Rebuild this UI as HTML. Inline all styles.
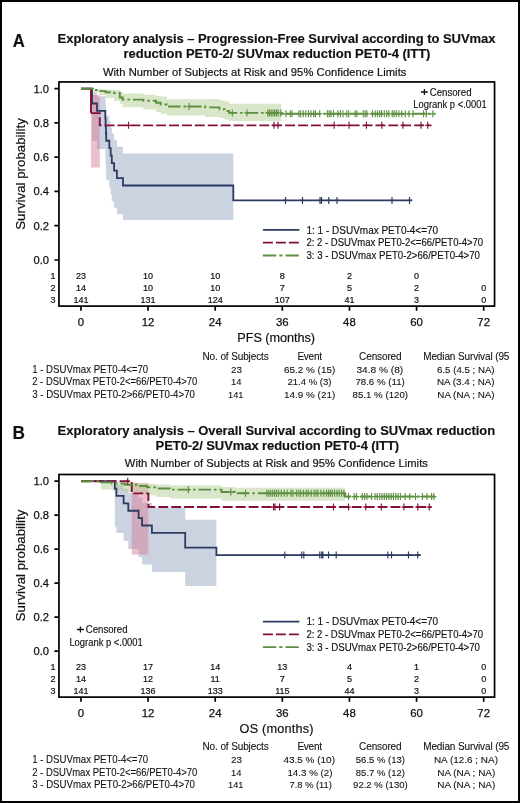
<!DOCTYPE html>
<html><head><meta charset="utf-8"><style>
html,body{margin:0;padding:0;background:#fff;}
.wrap{position:relative;width:520px;height:803px;box-sizing:border-box;border:2px solid #000;background:#fff;overflow:hidden;}
svg{position:absolute;left:-2px;top:-2px;will-change:transform;}
text{font-family:"Liberation Sans", sans-serif;fill:#111;}
</style></head><body><div class="wrap">
<svg width="520" height="803" viewBox="0 0 520 803">
<text x="12.70" y="47.00" font-size="17.6" font-weight="bold" stroke="#111" stroke-width="0.15" textLength="12.10" lengthAdjust="spacingAndGlyphs">A</text>
<text x="57.60" y="43.00" font-size="13" font-weight="bold" stroke="#111" stroke-width="0.15" textLength="437.80" lengthAdjust="spacing">Exploratory analysis – Progression-Free Survival according to SUVmax</text>
<text x="123.60" y="58.40" font-size="13" font-weight="bold" stroke="#111" stroke-width="0.15" textLength="306.80" lengthAdjust="spacing">reduction PET0-2/ SUVmax reduction PET0-4 (ITT)</text>
<text x="102.90" y="75.80" font-size="11.2" stroke="#111" stroke-width="0.2" textLength="303.50" lengthAdjust="spacing">With Number of Subjects at Risk and 95% Confidence Limits</text>
<path d="M92.00,92.45L97.00,92.45L97.00,96.15L105.30,96.15L105.30,100.44L105.60,100.44L105.60,105.19L105.90,105.19L105.90,110.30L106.20,110.30L106.20,115.73L109.30,115.73L109.30,121.43L110.70,121.43L110.70,127.39L111.80,127.39L111.80,133.58L114.10,133.58L114.10,140.00L116.90,140.00L116.90,146.65L123.00,146.65L123.00,153.52L233.30,153.52L233.30,220.09L123.00,220.09L123.00,214.02L116.90,214.02L116.90,207.71L114.10,207.71L114.10,201.17L111.80,201.17L111.80,194.41L110.70,194.41L110.70,187.42L109.30,187.42L109.30,180.19L106.20,180.19L106.20,172.72L105.90,172.72L105.90,165.01L105.60,165.01L105.60,157.06L105.30,157.06L105.30,148.92L97.00,148.92L97.00,140.89L92.00,140.89Z" fill="#97a5c1" fill-opacity="0.5"/>
<path d="M91.00,95.07L99.80,95.07L99.80,167.54L91.00,167.54Z" fill="#d78199" fill-opacity="0.5"/>
<path d="M93.00,89.00L99.00,89.00L99.00,89.30L105.50,89.30L105.50,89.60L114.00,89.60L114.00,90.00L119.80,90.00L119.80,91.50L122.70,91.50L122.70,93.50L143.40,93.50L143.40,94.70L156.10,94.70L156.10,96.00L160.70,96.00L160.70,96.40L167.00,96.40L167.00,99.20L205.00,99.20L205.00,99.00L219.50,99.00L219.50,100.20L224.50,100.20L224.50,101.50L229.00,101.50L229.00,103.70L281.30,103.70L281.30,121.00L229.00,121.00L229.00,119.50L224.50,119.50L224.50,118.00L219.50,118.00L219.50,117.00L205.00,117.00L205.00,115.50L167.00,115.50L167.00,113.70L160.70,113.70L160.70,112.00L156.10,112.00L156.10,109.60L143.40,109.60L143.40,107.30L122.70,107.30L122.70,104.00L119.80,104.00L119.80,101.00L114.00,101.00L114.00,98.00L105.50,98.00L105.50,95.00L99.00,95.00L99.00,92.50L93.00,92.50Z" fill="#b5cd93" fill-opacity="0.5"/>
<path d="M80.96,88.60H92.00V103.50H97.00V110.96H105.30V118.41H105.60V125.86H105.90V133.31H106.20V140.77H109.30V148.22H110.70V155.67H111.80V163.12H114.10V170.57H116.90V178.03H123.00V185.48H233.30V200.38H412.20" fill="none" stroke="#2d3a62" stroke-width="1.8"/>
<path d="M80.96,88.60H91.00V113.09" fill="none" stroke="#84103a" stroke-width="1.9"/>
<path d="M91.00,113.09H99.80V125.33H431.50" fill="none" stroke="#84103a" stroke-width="1.9" stroke-dasharray="9.9 3"/>
<path d="M80.96,88.60H93.00V89.95H99.00V91.10H105.50V92.30H114.00V93.00H119.80V97.50H122.70V99.60H143.40V100.80H156.10V102.70H160.70V104.50H167.00V106.50H205.00V107.40H219.50V109.20H224.50V111.00H229.00V112.90H281.30V113.80H435.50" fill="none" stroke="#5c9040" stroke-width="1.9" stroke-dasharray="12.5 3 2.5 3"/>
<path d="M285.50,196.88V203.88M283.00,200.38H288.00M302.50,196.88V203.88M300.00,200.38H305.00M320.00,196.88V203.88M317.50,200.38H322.50M321.50,196.88V203.88M319.00,200.38H324.00M328.75,196.88V203.88M326.25,200.38H331.25M337.00,196.88V203.88M334.50,200.38H339.50M392.00,196.88V203.88M389.50,200.38H394.50M409.50,196.88V203.88M407.00,200.38H412.00" fill="none" stroke="#2d3a62" stroke-width="1.15"/>
<path d="M128.50,121.83V128.83M126.00,125.33H131.00M274.00,121.83V128.83M271.50,125.33H276.50M278.00,121.83V128.83M275.50,125.33H280.50M334.20,121.83V128.83M331.70,125.33H336.70M349.00,121.83V128.83M346.50,125.33H351.50M366.40,121.83V128.83M363.90,125.33H368.90M381.80,121.83V128.83M379.30,125.33H384.30M403.00,121.83V128.83M400.50,125.33H405.50M421.00,121.83V128.83M418.50,125.33H423.50M427.70,121.83V128.83M425.20,125.33H430.20" fill="none" stroke="#84103a" stroke-width="1.15"/>
<path d="M189.00,103.00V110.00M186.50,106.50H191.50M232.30,109.40V116.40M229.80,112.90H234.80M246.90,109.40V116.40M244.40,112.90H249.40M267.80,109.40V116.40M265.30,112.90H270.30M269.50,109.40V116.40M267.00,112.90H272.00M271.20,109.40V116.40M268.70,112.90H273.70M273.00,109.40V116.40M270.50,112.90H275.50M274.70,109.40V116.40M272.20,112.90H277.20M276.40,109.40V116.40M273.90,112.90H278.90M278.20,109.40V116.40M275.70,112.90H280.70M280.80,109.40V116.40M278.30,112.90H283.30M286.00,110.30V117.30M283.50,113.80H288.50M290.30,110.30V117.30M287.80,113.80H292.80M292.00,110.30V117.30M289.50,113.80H294.50M298.90,110.30V117.30M296.40,113.80H301.40M300.70,110.30V117.30M298.20,113.80H303.20M303.30,110.30V117.30M300.80,113.80H305.80M305.80,110.30V117.30M303.30,113.80H308.30M308.40,110.30V117.30M305.90,113.80H310.90M311.00,110.30V117.30M308.50,113.80H313.50M313.60,110.30V117.30M311.10,113.80H316.10M315.40,110.30V117.30M312.90,113.80H317.90M319.70,110.30V117.30M317.20,113.80H322.20M327.50,110.30V117.30M325.00,113.80H330.00M329.20,110.30V117.30M326.70,113.80H331.70M330.90,110.30V117.30M328.40,113.80H333.40M333.50,110.30V117.30M331.00,113.80H336.00M337.90,110.30V117.30M335.40,113.80H340.40M340.40,110.30V117.30M337.90,113.80H342.90M343.00,110.30V117.30M340.50,113.80H345.50M346.80,110.30V117.30M344.30,113.80H349.30M348.70,110.30V117.30M346.20,113.80H351.20M355.10,110.30V117.30M352.60,113.80H357.60M356.90,110.30V117.30M354.40,113.80H359.40M363.30,110.30V117.30M360.80,113.80H365.80M365.10,110.30V117.30M362.60,113.80H367.60M366.90,110.30V117.30M364.40,113.80H369.40M372.40,110.30V117.30M369.90,113.80H374.90M375.20,110.30V117.30M372.70,113.80H377.70M377.50,110.30V117.30M375.00,113.80H380.00M379.70,110.30V117.30M377.20,113.80H382.20M381.60,110.30V117.30M379.10,113.80H384.10M384.30,110.30V117.30M381.80,113.80H386.80M386.70,110.30V117.30M384.20,113.80H389.20M388.90,110.30V117.30M386.40,113.80H391.40M392.20,110.30V117.30M389.70,113.80H394.70M394.00,110.30V117.30M391.50,113.80H396.50M396.20,110.30V117.30M393.70,113.80H398.70M398.90,110.30V117.30M396.40,113.80H401.40M401.70,110.30V117.30M399.20,113.80H404.20M405.30,110.30V117.30M402.80,113.80H407.80M409.00,110.30V117.30M406.50,113.80H411.50M413.00,110.30V117.30M410.50,113.80H415.50M423.60,110.30V117.30M421.10,113.80H426.10M426.40,110.30V117.30M423.90,113.80H428.90M432.80,110.30V117.30M430.30,113.80H435.30" fill="none" stroke="#5c9040" stroke-width="1.15"/>
<rect x="58.95" y="81.95" width="435.6" height="224.15" fill="none" stroke="#000" stroke-width="1.7"/>
<text x="49.00" y="264.00" font-size="11.2" text-anchor="end" stroke="#111" stroke-width="0.25">0.0</text>
<text x="49.00" y="229.72" font-size="11.2" text-anchor="end" stroke="#111" stroke-width="0.25">0.2</text>
<text x="49.00" y="195.44" font-size="11.2" text-anchor="end" stroke="#111" stroke-width="0.25">0.4</text>
<text x="49.00" y="161.16" font-size="11.2" text-anchor="end" stroke="#111" stroke-width="0.25">0.6</text>
<text x="49.00" y="126.88" font-size="11.2" text-anchor="end" stroke="#111" stroke-width="0.25">0.8</text>
<text x="49.00" y="92.60" font-size="11.2" text-anchor="end" stroke="#111" stroke-width="0.25">1.0</text>
<text x="80.96" y="325.90" font-size="11.4" text-anchor="middle" stroke="#111" stroke-width="0.25">0</text>
<text x="148.08" y="325.90" font-size="11.4" text-anchor="middle" stroke="#111" stroke-width="0.25">12</text>
<text x="215.21" y="325.90" font-size="11.4" text-anchor="middle" stroke="#111" stroke-width="0.25">24</text>
<text x="282.33" y="325.90" font-size="11.4" text-anchor="middle" stroke="#111" stroke-width="0.25">36</text>
<text x="349.45" y="325.90" font-size="11.4" text-anchor="middle" stroke="#111" stroke-width="0.25">48</text>
<text x="416.58" y="325.90" font-size="11.4" text-anchor="middle" stroke="#111" stroke-width="0.25">60</text>
<text x="483.70" y="325.90" font-size="11.4" text-anchor="middle" stroke="#111" stroke-width="0.25">72</text>
<path d="M54.4,260.00H58.95M54.4,225.72H58.95M54.4,191.44H58.95M54.4,157.16H58.95M54.4,122.88H58.95M54.4,88.60H58.95M80.96,306.10V310.70M148.08,306.10V310.70M215.21,306.10V310.70M282.33,306.10V310.70M349.45,306.10V310.70M416.58,306.10V310.70M483.70,306.10V310.70" stroke="#000" stroke-width="1.7" fill="none"/>
<text x="237.30" y="342.10" font-size="12.7" stroke="#111" stroke-width="0.2" textLength="77.70" lengthAdjust="spacing">PFS (months)</text>
<text x="0" y="0" font-size="13.3" text-anchor="middle" stroke="#111" stroke-width="0.2" transform="translate(25.3,174.00) rotate(-90)">Survival probability</text>
<text x="55.60" y="278.80" font-size="9" text-anchor="end" stroke="#111" stroke-width="0.2">1</text>
<text x="80.96" y="278.80" font-size="9" text-anchor="middle" stroke="#111" stroke-width="0.2">23</text>
<text x="148.08" y="278.80" font-size="9" text-anchor="middle" stroke="#111" stroke-width="0.2">10</text>
<text x="215.21" y="278.80" font-size="9" text-anchor="middle" stroke="#111" stroke-width="0.2">10</text>
<text x="282.33" y="278.80" font-size="9" text-anchor="middle" stroke="#111" stroke-width="0.2">8</text>
<text x="349.45" y="278.80" font-size="9" text-anchor="middle" stroke="#111" stroke-width="0.2">2</text>
<text x="416.58" y="278.80" font-size="9" text-anchor="middle" stroke="#111" stroke-width="0.2">0</text>
<text x="55.60" y="290.75" font-size="9" text-anchor="end" stroke="#111" stroke-width="0.2">2</text>
<text x="80.96" y="290.75" font-size="9" text-anchor="middle" stroke="#111" stroke-width="0.2">14</text>
<text x="148.08" y="290.75" font-size="9" text-anchor="middle" stroke="#111" stroke-width="0.2">10</text>
<text x="215.21" y="290.75" font-size="9" text-anchor="middle" stroke="#111" stroke-width="0.2">10</text>
<text x="282.33" y="290.75" font-size="9" text-anchor="middle" stroke="#111" stroke-width="0.2">7</text>
<text x="349.45" y="290.75" font-size="9" text-anchor="middle" stroke="#111" stroke-width="0.2">5</text>
<text x="416.58" y="290.75" font-size="9" text-anchor="middle" stroke="#111" stroke-width="0.2">2</text>
<text x="483.70" y="290.75" font-size="9" text-anchor="middle" stroke="#111" stroke-width="0.2">0</text>
<text x="55.60" y="302.70" font-size="9" text-anchor="end" stroke="#111" stroke-width="0.2">3</text>
<text x="80.96" y="302.70" font-size="9" text-anchor="middle" stroke="#111" stroke-width="0.2">141</text>
<text x="148.08" y="302.70" font-size="9" text-anchor="middle" stroke="#111" stroke-width="0.2">131</text>
<text x="215.21" y="302.70" font-size="9" text-anchor="middle" stroke="#111" stroke-width="0.2">124</text>
<text x="282.33" y="302.70" font-size="9" text-anchor="middle" stroke="#111" stroke-width="0.2">107</text>
<text x="349.45" y="302.70" font-size="9" text-anchor="middle" stroke="#111" stroke-width="0.2">41</text>
<text x="416.58" y="302.70" font-size="9" text-anchor="middle" stroke="#111" stroke-width="0.2">3</text>
<text x="483.70" y="302.70" font-size="9" text-anchor="middle" stroke="#111" stroke-width="0.2">0</text>
<path d="M262.9,229.90H299.4" stroke="#2d3a62" stroke-width="1.8"/>
<path d="M262.9,242.70H299.4" stroke="#84103a" stroke-width="1.8" stroke-dasharray="10 3"/>
<path d="M262.9,255.50H299.4" stroke="#5c9040" stroke-width="1.8" stroke-dasharray="13.3 3.1 3.1 3.1"/>
<text x="306.50" y="233.50" font-size="10" stroke="#111" stroke-width="0.15" textLength="131.60" lengthAdjust="spacing">1: 1 - DSUVmax PET0-4&lt;=70</text>
<text x="306.50" y="246.30" font-size="10" stroke="#111" stroke-width="0.15" textLength="176.60" lengthAdjust="spacingAndGlyphs">2: 2 - DSUVmax PET0-2&lt;=66/PET0-4&gt;70</text>
<text x="306.50" y="259.10" font-size="10" stroke="#111" stroke-width="0.15" textLength="173.50" lengthAdjust="spacingAndGlyphs">3: 3 - DSUVmax PET0-2&gt;66/PET0-4&gt;70</text>
<path d="M420.95,92.00H427.85M424.40,88.95V95.05" stroke="#111" stroke-width="1.3"/>
<text x="429.75" y="95.60" font-size="10" stroke="#111" stroke-width="0.15" textLength="41.80" lengthAdjust="spacingAndGlyphs">Censored</text>
<text x="413.30" y="108.20" font-size="10" stroke="#111" stroke-width="0.15" textLength="73.40" lengthAdjust="spacingAndGlyphs">Logrank p &lt;.0001</text>
<text x="202.50" y="360.00" font-size="10" stroke="#111" stroke-width="0.1" textLength="66.20" lengthAdjust="spacing">No. of Subjects</text>
<text x="297.40" y="360.00" font-size="10" stroke="#111" stroke-width="0.1" textLength="24.60" lengthAdjust="spacing">Event</text>
<text x="359.10" y="360.00" font-size="10" stroke="#111" stroke-width="0.1" textLength="42.50" lengthAdjust="spacing">Censored</text>
<text x="423.20" y="360.00" font-size="10" stroke="#111" stroke-width="0.1" textLength="86.20" lengthAdjust="spacing">Median Survival (95</text>
<text x="32.20" y="372.65" font-size="10.3" stroke="#111" stroke-width="0.1" textLength="116.00" lengthAdjust="spacingAndGlyphs">1 - DSUVmax PET0-4&lt;=70</text>
<text x="231.10" y="372.65" font-size="9.8" stroke="#111" stroke-width="0.1" textLength="11.00" lengthAdjust="spacingAndGlyphs">23</text>
<text x="284.00" y="372.65" font-size="9.8" stroke="#111" stroke-width="0.1" textLength="51.20" lengthAdjust="spacingAndGlyphs">65.2 % (15)</text>
<text x="356.40" y="372.65" font-size="9.8" stroke="#111" stroke-width="0.1" textLength="46.80" lengthAdjust="spacingAndGlyphs">34.8 % (8)</text>
<text x="437.00" y="372.65" font-size="9.8" stroke="#111" stroke-width="0.1" textLength="57.60" lengthAdjust="spacingAndGlyphs">6.5 (4.5 ; NA)</text>
<text x="32.20" y="385.30" font-size="10.3" stroke="#111" stroke-width="0.1" textLength="165.20" lengthAdjust="spacingAndGlyphs">2 - DSUVmax PET0-2&lt;=66/PET0-4&gt;70</text>
<text x="231.10" y="385.30" font-size="9.8" stroke="#111" stroke-width="0.1" textLength="10.50" lengthAdjust="spacingAndGlyphs">14</text>
<text x="287.50" y="385.30" font-size="9.8" stroke="#111" stroke-width="0.1" textLength="44.00" lengthAdjust="spacingAndGlyphs">21.4 % (3)</text>
<text x="355.40" y="385.30" font-size="9.8" stroke="#111" stroke-width="0.1" textLength="49.40" lengthAdjust="spacingAndGlyphs">78.6 % (11)</text>
<text x="437.00" y="385.30" font-size="9.8" stroke="#111" stroke-width="0.1" textLength="57.60" lengthAdjust="spacingAndGlyphs">NA (3.4 ; NA)</text>
<text x="32.20" y="397.95" font-size="10.3" stroke="#111" stroke-width="0.1" textLength="162.70" lengthAdjust="spacingAndGlyphs">3 - DSUVmax PET0-2&gt;66/PET0-4&gt;70</text>
<text x="228.10" y="397.95" font-size="9.8" stroke="#111" stroke-width="0.1" textLength="15.30" lengthAdjust="spacingAndGlyphs">141</text>
<text x="284.00" y="397.95" font-size="9.8" stroke="#111" stroke-width="0.1" textLength="51.20" lengthAdjust="spacingAndGlyphs">14.9 % (21)</text>
<text x="352.60" y="397.95" font-size="9.8" stroke="#111" stroke-width="0.1" textLength="55.40" lengthAdjust="spacingAndGlyphs">85.1 % (120)</text>
<text x="437.30" y="397.95" font-size="9.8" stroke="#111" stroke-width="0.1" textLength="57.30" lengthAdjust="spacingAndGlyphs">NA (NA ; NA)</text>
<text x="12.50" y="438.50" font-size="17.6" font-weight="bold" stroke="#111" stroke-width="0.15" textLength="12.46" lengthAdjust="spacingAndGlyphs">B</text>
<text x="57.60" y="434.50" font-size="13" font-weight="bold" stroke="#111" stroke-width="0.15" textLength="437.50" lengthAdjust="spacing">Exploratory analysis – Overall Survival according to SUVmax reduction</text>
<text x="155.60" y="449.90" font-size="13" font-weight="bold" stroke="#111" stroke-width="0.15" textLength="243.60" lengthAdjust="spacing">PET0-2/ SUVmax reduction PET0-4 (ITT)</text>
<text x="124.80" y="467.30" font-size="11.2" stroke="#111" stroke-width="0.2" textLength="303.10" lengthAdjust="spacing">With Number of Subjects at Risk and 95% Confidence Limits</text>
<path d="M114.80,482.26L116.40,482.26L116.40,485.02L123.60,485.02L123.60,488.68L128.30,488.68L128.30,492.94L138.60,492.94L138.60,497.64L142.10,497.64L142.10,502.71L151.90,502.71L151.90,508.09L185.20,508.09L185.20,519.65L216.40,519.65L216.40,586.08L185.20,586.08L185.20,571.99L151.90,571.99L151.90,564.59L142.10,564.59L142.10,556.94L138.60,556.94L138.60,549.06L128.30,549.06L128.30,540.99L123.60,540.99L123.60,533.03L116.40,533.03L116.40,527.19L114.80,527.19Z" fill="#97a5c1" fill-opacity="0.5"/>
<path d="M131.70,483.00L148.40,483.00L148.40,554.50L131.70,554.50Z" fill="#d78199" fill-opacity="0.5"/>
<path d="M101.00,481.37L112.00,481.37L112.00,481.81L125.00,481.81L125.00,482.38L138.00,482.38L138.00,483.03L147.00,483.03L147.00,483.74L156.00,483.74L156.00,484.49L170.00,484.49L170.00,485.27L221.50,485.27L221.50,486.95L235.00,486.95L235.00,487.82L345.00,487.82L345.00,500.80L235.00,500.80L235.00,500.80L221.50,500.80L221.50,498.40L170.00,498.40L170.00,496.89L156.00,496.89L156.00,495.34L147.00,495.34L147.00,493.77L138.00,493.77L138.00,492.19L125.00,492.19L125.00,490.66L112.00,490.66L112.00,489.60L101.00,489.60Z" fill="#b5cd93" fill-opacity="0.5"/>
<path d="M80.96,481.20H114.80V488.59H116.40V495.97H123.60V503.36H128.30V510.75H138.60V518.13H142.10V525.52H151.90V532.91H185.20V547.68H216.40V555.07H420.80" fill="none" stroke="#2d3a62" stroke-width="1.8"/>
<path d="M80.96,481.20H131.70V493.34H148.40V507.05H431.50" fill="none" stroke="#84103a" stroke-width="1.9" stroke-dasharray="9.9 3"/>
<path d="M80.96,481.20H101.00V482.41H112.00V483.62H125.00V484.82H138.00V486.03H147.00V487.24H156.00V488.43H170.00V489.63H221.50V492.07H235.00V493.31H345.00V496.55H435.50" fill="none" stroke="#5c9040" stroke-width="1.9" stroke-dasharray="12.5 3 2.5 3"/>
<path d="M284.80,551.57V558.57M282.30,555.07H287.30M301.70,551.57V558.57M299.20,555.07H304.20M303.80,551.57V558.57M301.30,555.07H306.30M319.80,551.57V558.57M317.30,555.07H322.30M321.70,551.57V558.57M319.20,555.07H324.20M322.90,551.57V558.57M320.40,555.07H325.40M328.50,551.57V558.57M326.00,555.07H331.00M336.20,551.57V558.57M333.70,555.07H338.70M387.80,551.57V558.57M385.30,555.07H390.30M391.50,551.57V558.57M389.00,555.07H394.00M408.50,551.57V558.57M406.00,555.07H411.00M417.70,551.57V558.57M415.20,555.07H420.20" fill="none" stroke="#2d3a62" stroke-width="1.15"/>
<path d="M127.70,477.70V484.70M125.20,481.20H130.20M273.60,503.55V510.55M271.10,507.05H276.10M275.00,503.55V510.55M272.50,507.05H277.50M279.60,503.55V510.55M277.10,507.05H282.10M333.50,503.55V510.55M331.00,507.05H336.00M348.50,503.55V510.55M346.00,507.05H351.00M365.80,503.55V510.55M363.30,507.05H368.30M381.30,503.55V510.55M378.80,507.05H383.80M403.90,503.55V510.55M401.40,507.05H406.40M417.80,503.55V510.55M415.30,507.05H420.30M429.30,503.55V510.55M426.80,507.05H431.80" fill="none" stroke="#84103a" stroke-width="1.15"/>
<path d="M188.30,486.13V493.13M185.80,489.63H190.80M230.80,488.57V495.57M228.30,492.07H233.30M245.50,489.81V496.81M243.00,493.31H248.00M266.90,489.81V496.81M264.40,493.31H269.40M268.80,489.81V496.81M266.30,493.31H271.30M270.80,489.81V496.81M268.30,493.31H273.30M272.70,489.81V496.81M270.20,493.31H275.20M274.60,489.81V496.81M272.10,493.31H277.10M276.50,489.81V496.81M274.00,493.31H279.00M278.50,489.81V496.81M276.00,493.31H281.00M281.30,489.81V496.81M278.80,493.31H283.80M284.20,489.81V496.81M281.70,493.31H286.70M287.10,489.81V496.81M284.60,493.31H289.60M291.00,489.81V496.81M288.50,493.31H293.50M292.90,489.81V496.81M290.40,493.31H295.40M296.70,489.81V496.81M294.20,493.31H299.20M298.70,489.81V496.81M296.20,493.31H301.20M300.60,489.81V496.81M298.10,493.31H303.10M303.50,489.81V496.81M301.00,493.31H306.00M306.30,489.81V496.81M303.80,493.31H308.80M308.30,489.81V496.81M305.80,493.31H310.80M311.20,489.81V496.81M308.70,493.31H313.70M314.00,489.81V496.81M311.50,493.31H316.50M316.00,489.81V496.81M313.50,493.31H318.50M317.90,489.81V496.81M315.40,493.31H320.40M320.80,489.81V496.81M318.30,493.31H323.30M323.70,489.81V496.81M321.20,493.31H326.20M326.50,489.81V496.81M324.00,493.31H329.00M328.50,489.81V496.81M326.00,493.31H331.00M330.40,489.81V496.81M327.90,493.31H332.90M332.30,489.81V496.81M329.80,493.31H334.80M334.60,489.81V496.81M332.10,493.31H337.10M336.90,489.81V496.81M334.40,493.31H339.40M339.20,489.81V496.81M336.70,493.31H341.70M341.50,489.81V496.81M339.00,493.31H344.00M343.90,489.81V496.81M341.40,493.31H346.40M348.50,493.05V500.05M346.00,496.55H351.00M354.20,493.05V500.05M351.70,496.55H356.70M356.60,493.05V500.05M354.10,496.55H359.10M362.30,493.05V500.05M359.80,496.55H364.80M364.60,493.05V500.05M362.10,496.55H367.10M367.00,493.05V500.05M364.50,496.55H369.50M371.60,493.05V500.05M369.10,496.55H374.10M375.00,493.05V500.05M372.50,496.55H377.50M377.30,493.05V500.05M374.80,496.55H379.80M379.70,493.05V500.05M377.20,496.55H382.20M382.00,493.05V500.05M379.50,496.55H384.50M384.30,493.05V500.05M381.80,496.55H386.80M386.60,493.05V500.05M384.10,496.55H389.10M388.90,493.05V500.05M386.40,496.55H391.40M391.20,493.05V500.05M388.70,496.55H393.70M393.50,493.05V500.05M391.00,496.55H396.00M395.80,493.05V500.05M393.30,496.55H398.30M398.10,493.05V500.05M395.60,496.55H400.60M400.40,493.05V500.05M397.90,496.55H402.90M405.10,493.05V500.05M402.60,496.55H407.60M409.70,493.05V500.05M407.20,496.55H412.20M415.50,493.05V500.05M413.00,496.55H418.00M422.40,493.05V500.05M419.90,496.55H424.90M427.00,493.05V500.05M424.50,496.55H429.50M431.60,493.05V500.05M429.10,496.55H434.10M433.90,493.05V500.05M431.40,496.55H436.40" fill="none" stroke="#5c9040" stroke-width="1.15"/>
<rect x="58.95" y="474.50" width="435.6" height="222.60" fill="none" stroke="#000" stroke-width="1.7"/>
<text x="49.00" y="655.10" font-size="11.2" text-anchor="end" stroke="#111" stroke-width="0.25">0.0</text>
<text x="49.00" y="621.12" font-size="11.2" text-anchor="end" stroke="#111" stroke-width="0.25">0.2</text>
<text x="49.00" y="587.14" font-size="11.2" text-anchor="end" stroke="#111" stroke-width="0.25">0.4</text>
<text x="49.00" y="553.16" font-size="11.2" text-anchor="end" stroke="#111" stroke-width="0.25">0.6</text>
<text x="49.00" y="519.18" font-size="11.2" text-anchor="end" stroke="#111" stroke-width="0.25">0.8</text>
<text x="49.00" y="485.20" font-size="11.2" text-anchor="end" stroke="#111" stroke-width="0.25">1.0</text>
<text x="80.96" y="716.90" font-size="11.4" text-anchor="middle" stroke="#111" stroke-width="0.25">0</text>
<text x="148.08" y="716.90" font-size="11.4" text-anchor="middle" stroke="#111" stroke-width="0.25">12</text>
<text x="215.21" y="716.90" font-size="11.4" text-anchor="middle" stroke="#111" stroke-width="0.25">24</text>
<text x="282.33" y="716.90" font-size="11.4" text-anchor="middle" stroke="#111" stroke-width="0.25">36</text>
<text x="349.45" y="716.90" font-size="11.4" text-anchor="middle" stroke="#111" stroke-width="0.25">48</text>
<text x="416.58" y="716.90" font-size="11.4" text-anchor="middle" stroke="#111" stroke-width="0.25">60</text>
<text x="483.70" y="716.90" font-size="11.4" text-anchor="middle" stroke="#111" stroke-width="0.25">72</text>
<path d="M54.4,651.10H58.95M54.4,617.12H58.95M54.4,583.14H58.95M54.4,549.16H58.95M54.4,515.18H58.95M54.4,481.20H58.95M80.96,697.10V701.70M148.08,697.10V701.70M215.21,697.10V701.70M282.33,697.10V701.70M349.45,697.10V701.70M416.58,697.10V701.70M483.70,697.10V701.70" stroke="#000" stroke-width="1.7" fill="none"/>
<text x="239.60" y="733.10" font-size="12.7" stroke="#111" stroke-width="0.2" textLength="73.90" lengthAdjust="spacing">OS (months)</text>
<text x="0" y="0" font-size="13.3" text-anchor="middle" stroke="#111" stroke-width="0.2" transform="translate(25.3,565.50) rotate(-90)">Survival probability</text>
<text x="55.60" y="669.80" font-size="9" text-anchor="end" stroke="#111" stroke-width="0.2">1</text>
<text x="80.96" y="669.80" font-size="9" text-anchor="middle" stroke="#111" stroke-width="0.2">23</text>
<text x="148.08" y="669.80" font-size="9" text-anchor="middle" stroke="#111" stroke-width="0.2">17</text>
<text x="215.21" y="669.80" font-size="9" text-anchor="middle" stroke="#111" stroke-width="0.2">14</text>
<text x="282.33" y="669.80" font-size="9" text-anchor="middle" stroke="#111" stroke-width="0.2">13</text>
<text x="349.45" y="669.80" font-size="9" text-anchor="middle" stroke="#111" stroke-width="0.2">4</text>
<text x="416.58" y="669.80" font-size="9" text-anchor="middle" stroke="#111" stroke-width="0.2">1</text>
<text x="483.70" y="669.80" font-size="9" text-anchor="middle" stroke="#111" stroke-width="0.2">0</text>
<text x="55.60" y="681.75" font-size="9" text-anchor="end" stroke="#111" stroke-width="0.2">2</text>
<text x="80.96" y="681.75" font-size="9" text-anchor="middle" stroke="#111" stroke-width="0.2">14</text>
<text x="148.08" y="681.75" font-size="9" text-anchor="middle" stroke="#111" stroke-width="0.2">12</text>
<text x="215.21" y="681.75" font-size="9" text-anchor="middle" stroke="#111" stroke-width="0.2">11</text>
<text x="282.33" y="681.75" font-size="9" text-anchor="middle" stroke="#111" stroke-width="0.2">7</text>
<text x="349.45" y="681.75" font-size="9" text-anchor="middle" stroke="#111" stroke-width="0.2">5</text>
<text x="416.58" y="681.75" font-size="9" text-anchor="middle" stroke="#111" stroke-width="0.2">2</text>
<text x="483.70" y="681.75" font-size="9" text-anchor="middle" stroke="#111" stroke-width="0.2">0</text>
<text x="55.60" y="693.70" font-size="9" text-anchor="end" stroke="#111" stroke-width="0.2">3</text>
<text x="80.96" y="693.70" font-size="9" text-anchor="middle" stroke="#111" stroke-width="0.2">141</text>
<text x="148.08" y="693.70" font-size="9" text-anchor="middle" stroke="#111" stroke-width="0.2">136</text>
<text x="215.21" y="693.70" font-size="9" text-anchor="middle" stroke="#111" stroke-width="0.2">133</text>
<text x="282.33" y="693.70" font-size="9" text-anchor="middle" stroke="#111" stroke-width="0.2">115</text>
<text x="349.45" y="693.70" font-size="9" text-anchor="middle" stroke="#111" stroke-width="0.2">44</text>
<text x="416.58" y="693.70" font-size="9" text-anchor="middle" stroke="#111" stroke-width="0.2">3</text>
<text x="483.70" y="693.70" font-size="9" text-anchor="middle" stroke="#111" stroke-width="0.2">0</text>
<path d="M262.9,621.60H299.4" stroke="#2d3a62" stroke-width="1.8"/>
<path d="M262.9,634.40H299.4" stroke="#84103a" stroke-width="1.8" stroke-dasharray="10 3"/>
<path d="M262.9,647.20H299.4" stroke="#5c9040" stroke-width="1.8" stroke-dasharray="13.3 3.1 3.1 3.1"/>
<text x="306.50" y="625.20" font-size="10" stroke="#111" stroke-width="0.15" textLength="131.60" lengthAdjust="spacing">1: 1 - DSUVmax PET0-4&lt;=70</text>
<text x="306.50" y="638.00" font-size="10" stroke="#111" stroke-width="0.15" textLength="176.60" lengthAdjust="spacingAndGlyphs">2: 2 - DSUVmax PET0-2&lt;=66/PET0-4&gt;70</text>
<text x="306.50" y="650.80" font-size="10" stroke="#111" stroke-width="0.15" textLength="173.50" lengthAdjust="spacingAndGlyphs">3: 3 - DSUVmax PET0-2&gt;66/PET0-4&gt;70</text>
<path d="M76.95,629.50H83.85M80.40,626.45V632.55" stroke="#111" stroke-width="1.3"/>
<text x="85.75" y="633.10" font-size="10" stroke="#111" stroke-width="0.15" textLength="41.80" lengthAdjust="spacingAndGlyphs">Censored</text>
<text x="69.40" y="645.50" font-size="10" stroke="#111" stroke-width="0.15" textLength="73.40" lengthAdjust="spacingAndGlyphs">Logrank p &lt;.0001</text>
<text x="202.50" y="750.20" font-size="10" stroke="#111" stroke-width="0.1" textLength="66.20" lengthAdjust="spacing">No. of Subjects</text>
<text x="297.40" y="750.20" font-size="10" stroke="#111" stroke-width="0.1" textLength="24.60" lengthAdjust="spacing">Event</text>
<text x="359.10" y="750.20" font-size="10" stroke="#111" stroke-width="0.1" textLength="42.50" lengthAdjust="spacing">Censored</text>
<text x="423.20" y="750.20" font-size="10" stroke="#111" stroke-width="0.1" textLength="86.20" lengthAdjust="spacing">Median Survival (95</text>
<text x="32.20" y="762.85" font-size="10.3" stroke="#111" stroke-width="0.1" textLength="116.00" lengthAdjust="spacingAndGlyphs">1 - DSUVmax PET0-4&lt;=70</text>
<text x="231.10" y="762.85" font-size="9.8" stroke="#111" stroke-width="0.1" textLength="11.00" lengthAdjust="spacingAndGlyphs">23</text>
<text x="283.40" y="762.85" font-size="9.8" stroke="#111" stroke-width="0.1" textLength="51.60" lengthAdjust="spacingAndGlyphs">43.5 % (10)</text>
<text x="355.80" y="762.85" font-size="9.8" stroke="#111" stroke-width="0.1" textLength="49.20" lengthAdjust="spacingAndGlyphs">56.5 % (13)</text>
<text x="433.90" y="762.85" font-size="9.8" stroke="#111" stroke-width="0.1" textLength="64.10" lengthAdjust="spacingAndGlyphs">NA (12.6 ; NA)</text>
<text x="32.20" y="775.50" font-size="10.3" stroke="#111" stroke-width="0.1" textLength="165.20" lengthAdjust="spacingAndGlyphs">2 - DSUVmax PET0-2&lt;=66/PET0-4&gt;70</text>
<text x="231.10" y="775.50" font-size="9.8" stroke="#111" stroke-width="0.1" textLength="10.50" lengthAdjust="spacingAndGlyphs">14</text>
<text x="287.40" y="775.50" font-size="9.8" stroke="#111" stroke-width="0.1" textLength="45.20" lengthAdjust="spacingAndGlyphs">14.3 % (2)</text>
<text x="355.80" y="775.50" font-size="9.8" stroke="#111" stroke-width="0.1" textLength="49.20" lengthAdjust="spacingAndGlyphs">85.7 % (12)</text>
<text x="437.20" y="775.50" font-size="9.8" stroke="#111" stroke-width="0.1" textLength="58.10" lengthAdjust="spacingAndGlyphs">NA (NA ; NA)</text>
<text x="32.20" y="788.15" font-size="10.3" stroke="#111" stroke-width="0.1" textLength="162.70" lengthAdjust="spacingAndGlyphs">3 - DSUVmax PET0-2&gt;66/PET0-4&gt;70</text>
<text x="228.10" y="788.15" font-size="9.8" stroke="#111" stroke-width="0.1" textLength="15.30" lengthAdjust="spacingAndGlyphs">141</text>
<text x="289.60" y="788.15" font-size="9.8" stroke="#111" stroke-width="0.1" textLength="42.30" lengthAdjust="spacingAndGlyphs">7.8 % (11)</text>
<text x="353.10" y="788.15" font-size="9.8" stroke="#111" stroke-width="0.1" textLength="54.60" lengthAdjust="spacingAndGlyphs">92.2 % (130)</text>
<text x="437.20" y="788.15" font-size="9.8" stroke="#111" stroke-width="0.1" textLength="58.10" lengthAdjust="spacingAndGlyphs">NA (NA ; NA)</text>
</svg></div></body></html>
